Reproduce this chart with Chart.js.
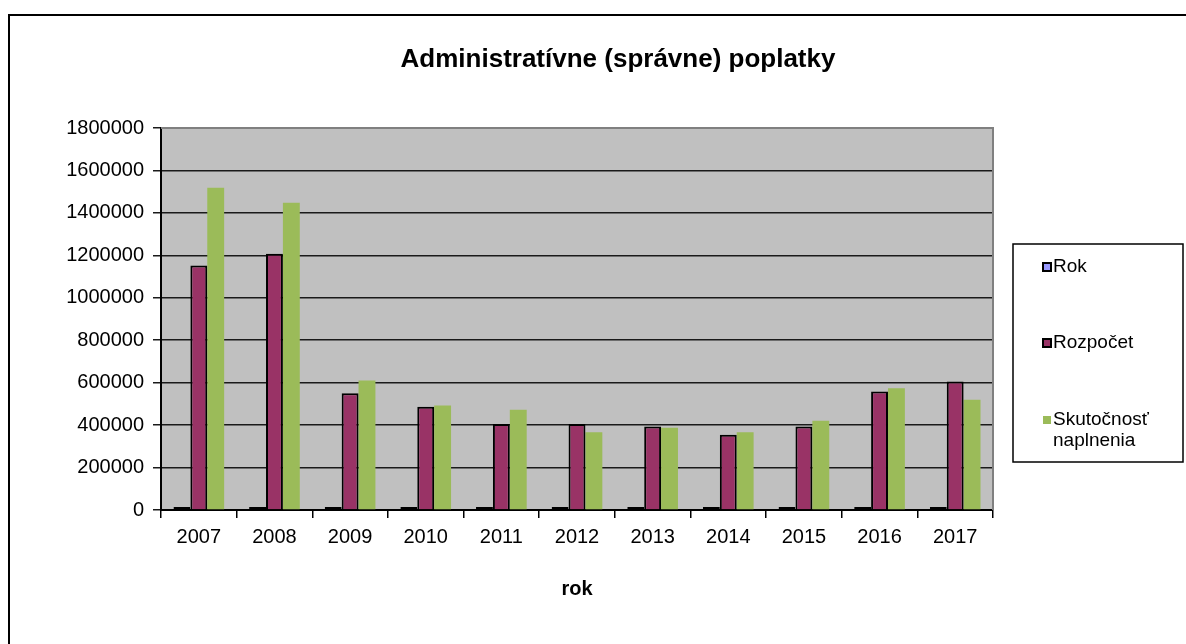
<!DOCTYPE html>
<html>
<head>
<meta charset="utf-8">
<script src="https://cdn.jsdelivr.net/npm/chart.js@4"></script>
<style>
  html, body { margin: 0; padding: 0; background: #fff; overflow: hidden; }
  #frame { position: absolute; left: 8px; top: 14px; width: 1300px; height: 800px; border: 2px solid #000; box-sizing: border-box; }
  #wrap { position: absolute; left: 0; top: 0; width: 1186px; height: 644px; }
</style>
</head>
<body>
<div id="frame"></div>
<div id="wrap"><canvas id="c"></canvas></div>
<script>
const categories = ['2007','2008','2009','2010','2011','2012','2013','2014','2015','2016','2017'];
const rokValues = [2007, 2008, 2009, 2010, 2011, 2012, 2013, 2014, 2015, 2016, 2017];
const rozpocetValues = [1152000, 1208000, 550000, 487000, 405000, 405000, 394000, 355000, 393000, 558000, 605000];
const skutocnostValues = [1519000, 1448000, 610000, 492000, 472000, 366000, 387000, 366000, 421000, 574000, 519000];
const seriesLabels = ['Rok', 'Rozpočet', 'Skutočnosť naplnenia'];
const chartTitle = 'Administratívne (správne) poplatky';
const xAxisTitle = 'rok';

const SANS = '"Liberation Sans", Arial, sans-serif';

const plotBg = {
  id: 'plotBg',
  beforeDraw(chart) {
    const {ctx, chartArea: a} = chart;
    ctx.save();
    ctx.fillStyle = '#C0C0C0';
    ctx.fillRect(a.left, a.top, a.right - a.left, a.bottom - a.top);
    ctx.restore();
  },
  afterDatasetsDraw(chart) {
    const {ctx, chartArea: a} = chart;
    ctx.save();
    ctx.strokeStyle = '#808080';
    ctx.lineWidth = 2;
    ctx.beginPath();
    ctx.moveTo(a.left, a.top);
    ctx.lineTo(a.right, a.top);
    ctx.lineTo(a.right, a.bottom);
    ctx.stroke();
    ctx.restore();
  }
};

const titlePlugin = {
  id: 'customTitle',
  afterDraw(chart) {
    const ctx = chart.ctx;
    ctx.save();
    ctx.font = 'bold 26px ' + SANS;
    ctx.fillStyle = '#000';
    ctx.textAlign = 'center';
    ctx.textBaseline = 'alphabetic';
    ctx.fillText(chartTitle, 618, 67);
    ctx.restore();
  }
};

const legendPlugin = {
  id: 'boxLegend',
  afterDraw(chart) {
    const ctx = chart.ctx;
    const box = {x: 1013, y: 244, w: 170, h: 218};
    ctx.save();
    ctx.strokeStyle = '#000';
    ctx.lineWidth = 1.5;
    ctx.strokeRect(box.x, box.y, box.w, box.h);
    const rows = [267, 343, 420];
    ctx.font = '19px ' + SANS;
    ctx.textBaseline = 'middle';
    ctx.textAlign = 'left';
    chart.data.datasets.forEach((ds, i) => {
      const cy = rows[i];
      const mx = 1043;
      ctx.fillStyle = ds.backgroundColor;
      ctx.fillRect(mx, cy - 4, 8, 8);
      if (ds.borderWidth > 0) {
        ctx.strokeStyle = '#000';
        ctx.lineWidth = 2;
        ctx.strokeRect(mx, cy - 4, 8, 8);
      }
      ctx.fillStyle = '#000';
      const words = ds.label.split(' ');
      let lines = [];
      let cur = '';
      words.forEach(w => {
        const t = cur ? cur + ' ' + w : w;
        if (ctx.measureText(t).width > 120 && cur) { lines.push(cur); cur = w; } else { cur = t; }
      });
      lines.push(cur);
      lines.forEach((ln, k) => ctx.fillText(ln, 1053, cy + k * 21));
    });
    ctx.restore();
  }
};

new Chart(document.getElementById('c'), {
  type: 'bar',
  data: {
    labels: categories,
    datasets: [
      { label: seriesLabels[0], data: rokValues, backgroundColor: '#9999FF', borderColor: '#000', borderWidth: 2, borderSkipped: false, minBarLength: 3 },
      { label: seriesLabels[1], data: rozpocetValues, backgroundColor: '#993366', borderColor: '#000', borderWidth: 2 },
      { label: seriesLabels[2], data: skutocnostValues, backgroundColor: '#9BBB59', borderWidth: 0 }
    ]
  },
  options: {
    responsive: true,
    maintainAspectRatio: false,
    animation: false,
    devicePixelRatio: 1,
    layout: { padding: { left: 0, top: 128, right: 193, bottom: 39 } },
    datasets: { bar: { categoryPercentage: 0.67, barPercentage: 1.0 } },
    plugins: { legend: { display: false }, title: { display: false }, tooltip: { enabled: false } },
    scales: {
      x: {
        grid: { drawOnChartArea: false, drawTicks: true, tickLength: 8, color: '#000', lineWidth: 1.5, offset: true },
        border: { color: '#000', width: 2 },
        ticks: { color: '#000', font: { family: SANS, size: 20 }, padding: 7 },
        title: { display: true, text: xAxisTitle, color: '#000', font: { family: SANS, size: 20, weight: 'bold' }, padding: { top: 4, bottom: 4 } },
        afterFit(s) { s.height = 95; }
      },
      y: {
        min: 0,
        max: 1800000,
        ticks: { stepSize: 200000, color: '#000', font: { family: SANS, size: 20 }, padding: 9, callback: v => String(v) },
        grid: { color: '#1a1a1a', lineWidth: 1.5, tickLength: 8, drawTicks: true },
        border: { color: '#000', width: 2 },
        afterFit(s) { s.width = 161; }
      }
    }
  },
  plugins: [plotBg, titlePlugin, legendPlugin]
});
</script>
</body>
</html>
